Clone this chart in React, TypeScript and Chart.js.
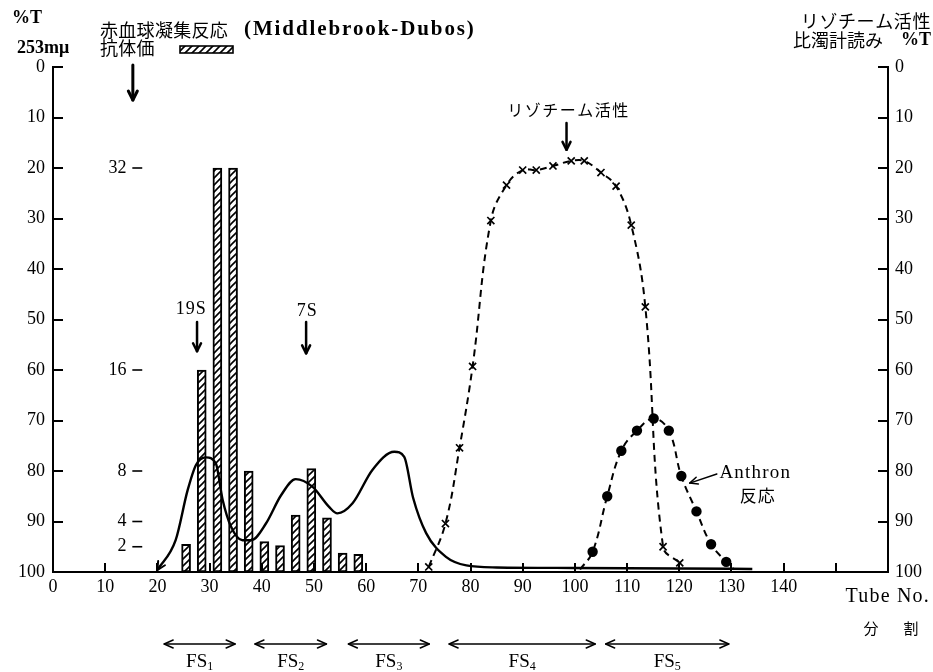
import React, { useEffect, useRef } from 'react';
import { Chart, registerables } from 'chart.js';

Chart.register(...registerables);

const SERIF = '"Liberation Serif", "DejaVu Serif", serif';
const CJK = '"Noto Sans CJK JP", sans-serif';

// Hemagglutination titre (Middlebrook-Dubos), hatched bars, by tube number
const titreTubes = [25.5, 28.5, 31.5, 34.5, 37.5, 40.5, 43.5, 46.5, 49.5, 52.5, 55.5, 58.5];
const titreValues = [2.2, 16, 32, 32, 8, 2.4, 2.1, 4.5, 8.2, 4.3, 1.5, 1.4];
const titreTicks = [2, 4, 8, 16, 32];

// %T at 253 mμ (solid curve)
const uvTubes = [20, 23.5, 25.8, 27.4, 29.3, 31.2, 32.5, 34.1, 36.3, 38, 40.8, 43.7, 46.5, 49.7, 52.9, 54.5, 57.4, 61.2, 65.4, 67.3, 69, 71.5, 75.3, 79.2, 85, 100, 120, 134];
const uvValues = [99.6, 93.7, 83.8, 78.8, 77.3, 78.5, 85.7, 91, 93.7, 93.7, 90.4, 84.8, 81.6, 83.1, 87.1, 88.4, 86.4, 79.8, 76.2, 77.2, 85.3, 92.3, 97, 98.7, 99.1, 99.2, 99.3, 99.4];

// Lysozyme activity, turbidimeter %T (dashed, crosses)
const lysoTubes = [72, 75.2, 77.9, 80.4, 83.9, 86.9, 90, 92.6, 95.8, 99.3, 101.8, 105, 107.9, 110.8, 113.5, 116.9, 120.1];
const lysoValues = [99, 90.4, 75.4, 59.3, 30.4, 23.4, 20.4, 20.4, 19.6, 18.6, 18.6, 20.9, 23.6, 31.3, 47.5, 95, 98.2];

// Anthrone reaction (dashed, filled dots); end points carry no marker
const anthTubes = [101, 103.4, 106.2, 108.9, 111.9, 115.1, 118, 120.4, 123.3, 126.1, 129, 130.5];
const anthValues = [99.5, 96, 85, 76, 72, 69.6, 72, 81, 88, 94.5, 98, 99.5];
const anthMarked = [false, true, true, true, true, true, true, true, true, true, true, false];

// Axis ticks
const pctTicks = [0, 10, 20, 30, 40, 50, 60, 70, 80, 90, 100];
const tubeTicks = [0, 10, 20, 30, 40, 50, 60, 70, 80, 90, 100, 110, 120, 130, 140, 150];
const tubeTickLabels = ['0', '10', '20', '30', '40', '50', '60', '70', '80', '90', '100', '110', '120', '130', '140', ''];

// Fractions collected (tube ranges)
const fractionNames = ['1', '2', '3', '4', '5'];
const fractionFrom = [21.3, 38.7, 56.6, 75.9, 105.9];
const fractionTo = [34.9, 52.4, 72.1, 103.9, 129.5];

function makeHatch(ctx: CanvasRenderingContext2D, size: number, lw: number) {
  const c = document.createElement('canvas');
  c.width = size;
  c.height = size;
  const g = c.getContext('2d')!;
  g.fillStyle = '#fff';
  g.fillRect(0, 0, size, size);
  g.strokeStyle = '#000';
  g.lineWidth = lw;
  g.beginPath();
  g.moveTo(0, size);
  g.lineTo(size, 0);
  g.moveTo(-size / 2, size / 2);
  g.lineTo(size / 2, -size / 2);
  g.moveTo(size / 2, size * 1.5);
  g.lineTo(size * 1.5, size / 2);
  g.stroke();
  return ctx.createPattern(c, 'repeat')!;
}

function arrowHead(ctx: CanvasRenderingContext2D, x1: number, y1: number, x2: number, y2: number, head: number, half: number) {
  const a = Math.atan2(y2 - y1, x2 - x1);
  const bx = x2 - head * Math.cos(a);
  const by = y2 - head * Math.sin(a);
  ctx.beginPath();
  ctx.moveTo(bx + half * Math.sin(a), by - half * Math.cos(a));
  ctx.lineTo(x2, y2);
  ctx.lineTo(bx - half * Math.sin(a), by + half * Math.cos(a));
  ctx.stroke();
}

function arrow(ctx: CanvasRenderingContext2D, x1: number, y1: number, x2: number, y2: number, lw: number, head: number, half: number, both = false) {
  ctx.save();
  ctx.strokeStyle = '#000';
  ctx.lineWidth = lw;
  ctx.lineCap = 'round';
  ctx.lineJoin = 'round';
  ctx.beginPath();
  ctx.moveTo(x1, y1);
  ctx.lineTo(x2, y2);
  ctx.stroke();
  arrowHead(ctx, x1, y1, x2, y2, head, half);
  if (both) arrowHead(ctx, x2, y2, x1, y1, head, half);
  ctx.restore();
}

function text(ctx: CanvasRenderingContext2D, s: string, x: number, y: number, font: string, align: CanvasTextAlign = 'left', spacing = 0) {
  ctx.save();
  ctx.font = font;
  ctx.textAlign = align;
  ctx.textBaseline = 'middle';
  ctx.fillStyle = '#000';
  (ctx as any).letterSpacing = `${spacing}px`;
  ctx.fillText(s, x, y);
  ctx.restore();
}

const overlay = {
  id: 'overlay',
  afterDraw(chart: any) {
    const { ctx, chartArea: a, scales } = chart;
    const px = (v: number) => scales.x.getPixelForValue(v);
    const py = (v: number) => scales.y.getPixelForValue(v);
    const pt = (v: number) => scales.yT.getPixelForValue(v);
    ctx.save();

    // inward tick marks on both %T axes and the tube axis
    ctx.strokeStyle = '#000';
    ctx.lineWidth = 2;
    ctx.beginPath();
    for (const v of pctTicks) {
      if (v === 100) continue;
      const yy = Math.round(py(v));
      ctx.moveTo(a.left, yy);
      ctx.lineTo(a.left + 10, yy);
      ctx.moveTo(a.right, yy);
      ctx.lineTo(a.right - 10, yy);
    }
    for (const v of tubeTicks) {
      if (v === 0) continue;
      const xx = Math.round(px(v));
      ctx.moveTo(xx, a.bottom);
      ctx.lineTo(xx, a.bottom - 9);
    }
    ctx.stroke();

    // arrow tip where the 253 mμ trace starts
    ctx.save();
    ctx.lineWidth = 2;
    ctx.lineCap = 'round';
    arrowHead(ctx, px(uvTubes[1]), py(uvValues[1]), px(uvTubes[0]), py(uvValues[0]), 8, 4);
    ctx.restore();

    // titre scale written inside the plot
    for (const t of titreTicks) {
      const yy = pt(t);
      text(ctx, String(t), px(14.1), yy, `18px ${SERIF}`, 'right');
      ctx.lineWidth = 1.6;
      ctx.beginPath();
      ctx.moveTo(px(15.2), yy);
      ctx.lineTo(px(17.1), yy);
      ctx.stroke();
    }

    // header, left
    text(ctx, '%T', 12, 18, `bold 18px ${SERIF}`);
    text(ctx, '253mμ', 17, 48, `bold 18px ${SERIF}`);
    text(ctx, '赤血球凝集反応', 100, 30, `18px ${CJK}`, 'left', 0.3);
    text(ctx, '(Middlebrook-Dubos)', 244, 30, `bold 21px ${SERIF}`, 'left', 1.9);
    text(ctx, '抗体価', 100, 48, `18px ${CJK}`, 'left', 0.3);
    // legend swatch for the hatched bars
    const hatch = chart.data.datasets[0].backgroundColor;
    ctx.fillStyle = hatch;
    ctx.fillRect(180, 46, 53, 7);
    ctx.lineWidth = 1.6;
    ctx.strokeStyle = '#000';
    ctx.strokeRect(180, 46, 53, 7);
    arrow(ctx, px(15.3), 65, px(15.3), 100, 3, 9, 4.5);

    // header, right
    text(ctx, 'リゾチーム活性', 931, 21, `18px ${CJK}`, 'right', 0.6);
    text(ctx, '%T', 931, 40, `bold 18px ${SERIF}`, 'right');
    text(ctx, '比濁計読み', 883, 40, `18px ${CJK}`, 'right');

    // peak markers
    text(ctx, '19S', px(26.5), py(47.9), `18px ${SERIF}`, 'center', 1);
    arrow(ctx, px(27.6), py(50.5), px(27.6), py(56.3), 2.5, 8, 4);
    text(ctx, '7S', px(48.7), py(48.3), `18px ${SERIF}`, 'center', 1);
    arrow(ctx, px(48.5), py(50.5), px(48.5), py(56.7), 2.5, 8, 4);
    text(ctx, 'リゾチーム活性', px(98.8), py(8.5), `16px ${CJK}`, 'center', 1.5);
    arrow(ctx, px(98.4), py(11.1), px(98.4), py(16.4), 2.5, 8, 4);

    // Anthron label with pointer
    text(ctx, 'Anthron', px(127.7), py(80.4), `19px ${SERIF}`, 'left', 1.2);
    text(ctx, '反応', px(131.6), py(84.8), `17px ${CJK}`, 'left', 1);
    arrow(ctx, px(127.2), py(80.6), px(122), py(82.4), 1.5, 8, 3.5);

    // tube axis caption
    text(ctx, 'Tube No.', 930, 597, `20px ${SERIF}`, 'right', 1.2);
    text(ctx, '分', 871, 628, `15px ${CJK}`, 'center');
    text(ctx, '割', 911, 628, `15px ${CJK}`, 'center');

    // fraction ranges
    fractionNames.forEach((n, i) => {
      const x1 = px(fractionFrom[i]);
      const x2 = px(fractionTo[i]);
      arrow(ctx, x1, 644, x2, 644, 1.4, 9, 4, true);
      ctx.font = `19px ${SERIF}`;
      const w1 = ctx.measureText('FS').width;
      ctx.font = `12px ${SERIF}`;
      const w2 = ctx.measureText(n).width;
      const cx = (x1 + x2) / 2 - (w1 + w2) / 2;
      text(ctx, 'FS', cx, 662, `19px ${SERIF}`);
      text(ctx, n, cx + w1, 667, `12px ${SERIF}`);
    });

    ctx.restore();
  },
};

export default function App() {
  const ref = useRef<HTMLCanvasElement>(null);

  useEffect(() => {
    const canvas = ref.current!;
    const ctx = canvas.getContext('2d')!;
    const hatch = makeHatch(ctx, 7, 1.6);

    const pctAxis = (position: 'left' | 'right') => ({
      type: 'linear' as const,
      position,
      min: 0,
      max: 100,
      reverse: true,
      afterBuildTicks: (s: any) => {
        s.ticks = pctTicks.map((v) => ({ value: v }));
      },
      afterFit: (s: any) => {
        s.width = 45;
      },
      grid: { display: false, drawTicks: false },
      border: { display: true, color: '#000', width: 2 },
      ticks: {
        color: '#000',
        padding: position === 'left' ? 8 : 7,
        font: { family: SERIF, size: 18 },
      },
    });

    const chart = new Chart(ctx, {
      type: 'bar',
      data: {
        datasets: [
          {
            type: 'bar',
            label: '抗体価',
            data: titreTubes.map((t, i) => ({ x: t, y: titreValues[i] })),
            xAxisID: 'x',
            yAxisID: 'yT',
            backgroundColor: hatch,
            borderColor: '#000',
            borderWidth: 2,
            borderSkipped: false,
            barThickness: 9,
            order: 3,
          } as any,
          {
            type: 'line',
            label: '%T 253mμ',
            data: uvTubes.map((t, i) => ({ x: t, y: uvValues[i] })),
            xAxisID: 'x',
            yAxisID: 'y',
            borderColor: '#000',
            borderWidth: 2.4,
            pointRadius: 0,
            cubicInterpolationMode: 'monotone',
            fill: false,
            order: 2,
          },
          {
            type: 'line',
            label: 'リゾチーム活性',
            data: lysoTubes.map((t, i) => ({ x: t, y: lysoValues[i] })),
            xAxisID: 'x',
            yAxisID: 'y',
            borderColor: '#000',
            borderWidth: 2,
            borderDash: [7, 5],
            tension: 0.4,
            pointStyle: 'crossRot',
            pointRadius: 5,
            pointBorderWidth: 1.7,
            pointBorderColor: '#000',
            fill: false,
            order: 1,
          },
          {
            type: 'line',
            label: 'Anthron反応',
            data: anthTubes.map((t, i) => ({ x: t, y: anthValues[i] })),
            xAxisID: 'x',
            yAxisID: 'y',
            borderColor: '#000',
            borderWidth: 2,
            borderDash: [7, 5],
            tension: 0.4,
            pointStyle: 'circle',
            pointRadius: anthMarked.map((m) => (m ? 4.2 : 0)),
            pointBackgroundColor: '#000',
            pointBorderColor: '#000',
            fill: false,
            order: 0,
          },
        ],
      },
      options: {
        responsive: false,
        animation: false,
        layout: { padding: { left: 8, right: 0, top: 67, bottom: 0 } },
        plugins: {
          legend: { display: false },
          tooltip: { enabled: false },
          title: { display: false },
        },
        scales: {
          x: {
            type: 'linear',
            position: 'bottom',
            min: 0,
            max: 160,
            offset: false,
            afterBuildTicks: (s: any) => {
              s.ticks = tubeTicks.map((v) => ({ value: v }));
            },
            afterFit: (s: any) => {
              s.height = 100;
            },
            grid: { display: false, drawTicks: false, offset: false },
            border: { display: true, color: '#000', width: 2 },
            ticks: {
              color: '#000',
              padding: 4,
              maxRotation: 0,
              autoSkip: false,
              font: { family: SERIF, size: 18 },
              callback: (_v: any, i: number) => tubeTickLabels[i],
            },
          },
          y: pctAxis('left'),
          yR: pctAxis('right'),
          yT: { type: 'linear', display: false, min: 0, max: 40 },
        },
      } as any,
      plugins: [overlay],
    });

    return () => chart.destroy();
  }, []);

  return (
    <div style={{ position: 'absolute', left: 0, top: 0, width: 933, height: 672, background: '#fff' }}>
      <canvas ref={ref} width={933} height={672} style={{ display: 'block', width: 933, height: 672 }} />
    </div>
  );
}
